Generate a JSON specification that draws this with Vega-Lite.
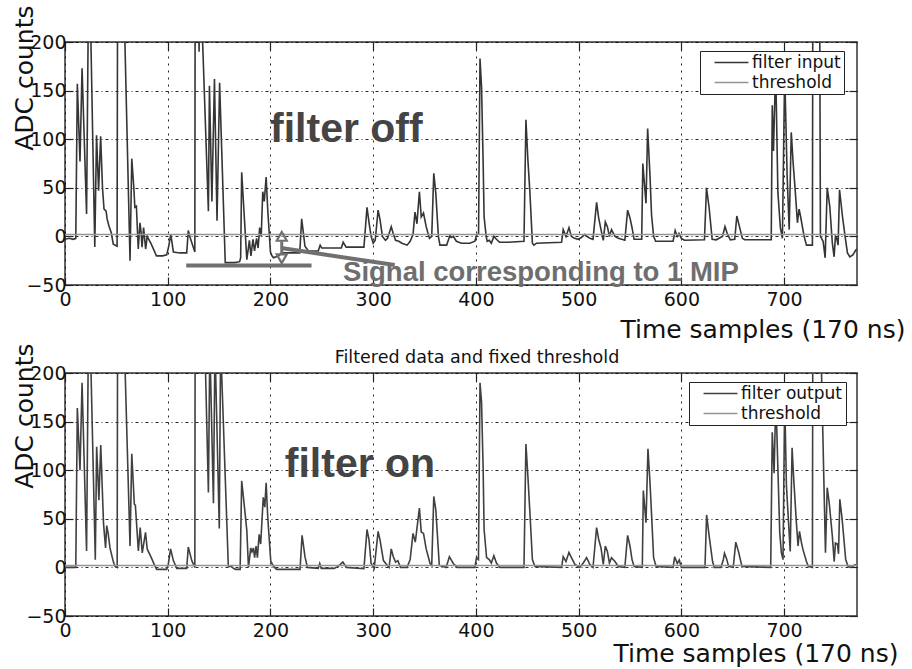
{
"$schema": "https://vega.github.io/schema/vega-lite/v6.json",
"background": "white",
"autosize": {"type": "pad"},
"padding": {"left": 11, "top": 4, "right": 4, "bottom": 4},
"config": {
 "view": {"stroke": "#333", "strokeWidth": 1.5},
 "font": "DejaVu Sans",
 "axis": {"domain": false, "tickColor": "#222", "tickWidth": 1.2, "tickSize": -8, "labelFont": "DejaVu Sans", "labelFontSize": 19, "labelColor": "#111", "titleFont": "DejaVu Sans", "titleFontSize": 25, "titleFontWeight": "normal", "titleColor": "#111", "gridColor": "#000", "gridOpacity": 0.85, "gridWidth": 1, "labelFlush": false, "labelOverlap": false},
 "axisX": {"gridDash": [2, 5], "labelPadding": 13},
 "axisY": {"gridDash": [3, 3, 1, 3], "labelPadding": 7},
 "legend": {"symbolType": "M-3,0H3", "symbolSize": 128, "symbolStrokeWidth": 1.4, "labelFontSize": 17, "labelFont": "DejaVu Sans", "labelColor": "#111", "strokeColor": "#222", "fillColor": "white", "padding": 3, "rowPadding": 2, "symbolOffset": 20, "labelOffset": 12, "labelLimit": 0}
},
"datasets": {
 "top": [
{"x":0,"y":-3},{"x":4,"y":-2},{"x":8,"y":-3},{"x":10.5,"y":-2},{"x":12,"y":157},{"x":14.6,"y":77},{"x":16.6,"y":173},{"x":21,"y":23},{"x":22.7,"y":230},{"x":24.7,"y":230},{"x":29,"y":-11},{"x":30.7,"y":104},{"x":32.7,"y":47},{"x":34.7,"y":103},{"x":36.5,"y":50},{"x":38,"y":28},{"x":40,"y":26},{"x":41,"y":18},{"x":43,"y":10},{"x":45,"y":4},{"x":47,"y":-8},{"x":50.7,"y":-10},{"x":51.2,"y":260},{"x":57,"y":260},{"x":63.3,"y":-25},{"x":65,"y":80},{"x":67,"y":50},{"x":68,"y":30},{"x":69.5,"y":31},{"x":71.3,"y":-13},{"x":73,"y":14},{"x":74,"y":5},{"x":75,"y":-11},{"x":76.5,"y":9},{"x":78.5,"y":-13},{"x":80,"y":0},{"x":84,"y":-8},{"x":89,"y":-20},{"x":95,"y":-20},{"x":99,"y":-19},{"x":101,"y":-10},{"x":103,"y":2},{"x":105.5,"y":-16},{"x":112,"y":-17},{"x":118.5,"y":-17},{"x":120,"y":6},{"x":122,"y":-2},{"x":126.4,"y":-16},{"x":126.7,"y":260},{"x":130,"y":260},{"x":130.5,"y":190},{"x":131,"y":230},{"x":133,"y":230},{"x":139.6,"y":26},{"x":140.6,"y":155},{"x":143,"y":36},{"x":145.5,"y":162},{"x":148,"y":16},{"x":150.5,"y":158},{"x":156,"y":-27},{"x":165,"y":-27},{"x":170,"y":-26},{"x":171,"y":-22},{"x":172,"y":66},{"x":177,"y":-24},{"x":179.5,"y":-4},{"x":181,"y":-20},{"x":183,"y":-3},{"x":184.5,"y":-15},{"x":186.5,"y":-2},{"x":188,"y":-12},{"x":189.5,"y":9},{"x":191,"y":0},{"x":192.5,"y":46},{"x":194,"y":36},{"x":195.8,"y":61},{"x":197.5,"y":25},{"x":200,"y":-16},{"x":201.5,"y":-20},{"x":203,"y":-22},{"x":208,"y":-20},{"x":211,"y":-17},{"x":228.5,"y":-17},{"x":230.4,"y":18},{"x":233.6,"y":-10},{"x":237,"y":-15},{"x":246.5,"y":-15},{"x":248.4,"y":-9},{"x":250,"y":-12},{"x":269,"y":-12},{"x":270.8,"y":-6},{"x":273.7,"y":-11},{"x":291,"y":-11},{"x":294,"y":30},{"x":296,"y":14},{"x":298,"y":0},{"x":300,"y":-7},{"x":302,"y":-4},{"x":304.8,"y":27},{"x":306.7,"y":17},{"x":309,"y":0},{"x":312,"y":-4},{"x":314,"y":-2},{"x":317.6,"y":10},{"x":319.5,"y":3},{"x":321.8,"y":-4},{"x":325,"y":-5},{"x":328,"y":-7},{"x":333,"y":-9},{"x":336,"y":-5},{"x":338.8,"y":2},{"x":340.7,"y":25},{"x":342.6,"y":13},{"x":345,"y":46},{"x":346.8,"y":20},{"x":349,"y":24},{"x":351.6,"y":10},{"x":354.8,"y":-2},{"x":357,"y":0},{"x":359,"y":65},{"x":361,"y":44},{"x":363.5,"y":0},{"x":365,"y":-9},{"x":371.5,"y":-9},{"x":374.7,"y":1},{"x":376,"y":-1},{"x":378,"y":0},{"x":381,"y":-5},{"x":386,"y":-7},{"x":394,"y":-7},{"x":399,"y":-5},{"x":400.6,"y":1},{"x":402.6,"y":3},{"x":404,"y":183},{"x":405.5,"y":154},{"x":407,"y":79},{"x":408,"y":20},{"x":410,"y":0},{"x":411,"y":-5},{"x":413,"y":-4},{"x":415,"y":-7},{"x":417.5,"y":0},{"x":420,"y":-3},{"x":423,"y":-6},{"x":431.5,"y":-6},{"x":446.8,"y":-5},{"x":448.7,"y":120},{"x":450.6,"y":79},{"x":452.6,"y":45},{"x":455,"y":-7},{"x":456.5,"y":-9},{"x":459,"y":-7},{"x":483.4,"y":-6},{"x":485,"y":7},{"x":487.7,"y":0},{"x":490.6,"y":9},{"x":493,"y":0},{"x":496,"y":-2},{"x":499.7,"y":-3},{"x":503,"y":-1},{"x":506,"y":2},{"x":508,"y":0},{"x":511,"y":-2},{"x":514,"y":-3},{"x":517.5,"y":35},{"x":519.5,"y":19},{"x":521.8,"y":7},{"x":524,"y":-4},{"x":526,"y":15},{"x":528,"y":10},{"x":530,"y":0},{"x":532,"y":7},{"x":535.4,"y":0},{"x":538.6,"y":-2},{"x":542,"y":-3},{"x":545,"y":-4},{"x":547.7,"y":27},{"x":550,"y":19},{"x":552,"y":9},{"x":554,"y":-3},{"x":561.4,"y":-3},{"x":562.5,"y":75},{"x":565.6,"y":34},{"x":567.2,"y":111},{"x":569.5,"y":62},{"x":571,"y":22},{"x":573,"y":0},{"x":575,"y":-5},{"x":592,"y":-5},{"x":594,"y":6},{"x":596,"y":0},{"x":597.7,"y":3},{"x":600,"y":-2},{"x":603,"y":-4},{"x":622.5,"y":-3.5},{"x":624.5,"y":50},{"x":627,"y":30},{"x":630,"y":-3},{"x":634,"y":-3.5},{"x":640,"y":0},{"x":642.5,"y":10},{"x":645,"y":2},{"x":647.7,"y":-3.5},{"x":652,"y":-3},{"x":654,"y":21},{"x":656.8,"y":9},{"x":659.4,"y":-2},{"x":661.7,"y":-3.5},{"x":687.5,"y":-3.5},{"x":688.5,"y":135},{"x":689.7,"y":88},{"x":691.8,"y":175},{"x":694,"y":45},{"x":696.4,"y":9},{"x":698.4,"y":-2},{"x":700.6,"y":170},{"x":703,"y":62},{"x":705,"y":7},{"x":707,"y":107},{"x":708.8,"y":76},{"x":711,"y":45},{"x":713,"y":14},{"x":714.6,"y":28},{"x":716,"y":21},{"x":718,"y":9},{"x":719.5,"y":0},{"x":721.8,"y":-9},{"x":727.6,"y":-9},{"x":728,"y":260},{"x":734.6,"y":260},{"x":735.4,"y":0},{"x":738,"y":-5},{"x":740,"y":-22},{"x":742,"y":50},{"x":744.5,"y":31},{"x":747,"y":-7},{"x":748.7,"y":-21},{"x":750,"y":0},{"x":751.2,"y":-2},{"x":752.6,"y":-9},{"x":754,"y":48},{"x":756.8,"y":21},{"x":759.4,"y":0},{"x":761.7,"y":-17},{"x":764,"y":-21},{"x":767,"y":-19},{"x":769.8,"y":-14},{"x":771,"y":-13}
 ],
 "bot": [
{"x":0,"y":0},{"x":10.5,"y":0},{"x":12,"y":164},{"x":14.6,"y":100},{"x":16.6,"y":190},{"x":21,"y":17},{"x":22.7,"y":230},{"x":24.7,"y":230},{"x":29.5,"y":8},{"x":30.8,"y":124},{"x":33,"y":69},{"x":34.8,"y":126},{"x":37.5,"y":45},{"x":39.5,"y":20},{"x":40.6,"y":43},{"x":42,"y":35},{"x":43.8,"y":20},{"x":47,"y":6},{"x":48.7,"y":1},{"x":50.8,"y":0},{"x":51.2,"y":260},{"x":57,"y":260},{"x":63.3,"y":22},{"x":65,"y":117},{"x":67.5,"y":65},{"x":68.5,"y":64},{"x":71.4,"y":17},{"x":73.2,"y":41},{"x":75.2,"y":15},{"x":78.4,"y":36},{"x":80,"y":19},{"x":84,"y":10},{"x":87.7,"y":1},{"x":89.3,"y":-2},{"x":99,"y":-2},{"x":100.5,"y":3},{"x":102.8,"y":19},{"x":105.5,"y":7},{"x":108.8,"y":-1},{"x":118.5,"y":-1},{"x":120,"y":21},{"x":123.4,"y":7},{"x":126.4,"y":0},{"x":126.7,"y":260},{"x":135.5,"y":260},{"x":139.6,"y":77},{"x":141,"y":230},{"x":144.5,"y":66},{"x":146,"y":230},{"x":150.2,"y":40},{"x":151.5,"y":230},{"x":159,"y":1},{"x":162,"y":1},{"x":164,"y":-1},{"x":166,"y":-2},{"x":170.5,"y":-2},{"x":172,"y":89},{"x":174.7,"y":62},{"x":177,"y":38},{"x":178.6,"y":0},{"x":180.8,"y":20},{"x":182,"y":16},{"x":183.4,"y":20},{"x":184.6,"y":10},{"x":186,"y":22},{"x":187.3,"y":10},{"x":189,"y":34},{"x":190.5,"y":24},{"x":193,"y":72},{"x":194.5,"y":62},{"x":195.8,"y":87},{"x":197.4,"y":51},{"x":200.3,"y":6.5},{"x":203,"y":1},{"x":206,"y":-2},{"x":228.8,"y":-2},{"x":230.8,"y":33},{"x":233.6,"y":11},{"x":236,"y":0},{"x":246.5,"y":-1},{"x":248,"y":4},{"x":249.5,"y":-1},{"x":262,"y":-1},{"x":266,"y":1},{"x":270.5,"y":5.5},{"x":274,"y":0},{"x":291,"y":-1.4},{"x":294,"y":39},{"x":296,"y":28},{"x":298,"y":4},{"x":301,"y":-1},{"x":304.8,"y":37},{"x":306.7,"y":28},{"x":310,"y":7},{"x":313.8,"y":2},{"x":315.5,"y":0},{"x":317.6,"y":19},{"x":319.6,"y":11},{"x":321.8,"y":5.5},{"x":324,"y":7},{"x":326.6,"y":0},{"x":333,"y":0},{"x":336,"y":8},{"x":338.8,"y":35},{"x":341,"y":26},{"x":345,"y":61},{"x":346.8,"y":36.5},{"x":349,"y":35},{"x":351.6,"y":19},{"x":355.4,"y":4},{"x":357,"y":2},{"x":359,"y":73},{"x":361,"y":59},{"x":364.4,"y":2},{"x":371,"y":0},{"x":374.2,"y":11},{"x":378,"y":4},{"x":381.7,"y":0},{"x":399,"y":0},{"x":400.6,"y":10},{"x":402.5,"y":8},{"x":404,"y":190},{"x":405.5,"y":170},{"x":407,"y":104},{"x":408,"y":39},{"x":410.4,"y":10},{"x":413,"y":8},{"x":415,"y":4.5},{"x":417.5,"y":12},{"x":420,"y":4.5},{"x":423.4,"y":0},{"x":446.8,"y":0},{"x":448.7,"y":127},{"x":450.6,"y":94},{"x":452.6,"y":56},{"x":455,"y":8},{"x":457.5,"y":1},{"x":483.4,"y":0},{"x":485,"y":11},{"x":487.7,"y":6},{"x":490.6,"y":15.5},{"x":493,"y":10},{"x":496.4,"y":3},{"x":501,"y":0},{"x":504.5,"y":4.5},{"x":507.8,"y":10},{"x":511,"y":3},{"x":514,"y":0},{"x":517.5,"y":41},{"x":519.5,"y":29},{"x":521.8,"y":20},{"x":524,"y":3},{"x":526,"y":22},{"x":528,"y":16.5},{"x":530,"y":4.5},{"x":532,"y":10},{"x":535.4,"y":6},{"x":538.6,"y":1},{"x":545,"y":0},{"x":547.7,"y":33},{"x":550,"y":22},{"x":552,"y":8},{"x":554,"y":1},{"x":562,"y":0},{"x":563,"y":79},{"x":565.6,"y":46},{"x":567.5,"y":122},{"x":569.5,"y":87},{"x":571.4,"y":46},{"x":573,"y":10},{"x":575.4,"y":1},{"x":592,"y":0},{"x":593.5,"y":11},{"x":596,"y":4},{"x":598,"y":7.6},{"x":600,"y":0},{"x":623,"y":0},{"x":624.6,"y":54},{"x":627,"y":33},{"x":630.4,"y":6},{"x":632,"y":0},{"x":638.5,"y":0},{"x":640.8,"y":7.6},{"x":642,"y":14.5},{"x":644,"y":9},{"x":646,"y":1},{"x":650.5,"y":0},{"x":653,"y":26},{"x":655.7,"y":16},{"x":659,"y":1},{"x":687,"y":0},{"x":688.5,"y":139},{"x":690.3,"y":97},{"x":692,"y":175},{"x":695.8,"y":35.5},{"x":697.4,"y":15},{"x":699,"y":8},{"x":700.6,"y":175},{"x":702.3,"y":84},{"x":706,"y":16.5},{"x":707.8,"y":123},{"x":709.4,"y":91},{"x":712,"y":46},{"x":713.6,"y":22},{"x":715,"y":37},{"x":717,"y":25},{"x":718.5,"y":18},{"x":721.8,"y":6},{"x":723.7,"y":1},{"x":727.6,"y":0},{"x":728,"y":260},{"x":735.2,"y":260},{"x":740.3,"y":15},{"x":742,"y":82},{"x":744,"y":66},{"x":747,"y":32},{"x":748.8,"y":6},{"x":750,"y":25},{"x":752,"y":24},{"x":753,"y":14},{"x":754.3,"y":70},{"x":756.5,"y":50},{"x":760,"y":8},{"x":762.3,"y":1},{"x":765.6,"y":0},{"x":768,"y":2},{"x":770,"y":3}
 ]
},
"spacing": 88,
"bounds": "flush",
"resolve": {"scale": {"color": "independent", "x": "independent", "y": "independent"}},
"vconcat": [
 {
  "width": 792, "height": 243,
  "layer": [
   {
    "data": {"name": "top"},
    "mark": {"type": "line", "clip": true, "strokeWidth": 1.6},
    "encoding": {
     "x": {"field": "x", "type": "quantitative", "scale": {"domain": [0, 771], "nice": false, "zero": false},
      "axis": {"orient": "bottom", "values": [0,100,200,300,400,500,600,700], "grid": true, "title": "Time samples (170 ns)", "titleX": 840, "titleY": 52, "titleAlign": "right", "titleBaseline": "alphabetic"}},
     "y": {"field": "y", "type": "quantitative", "scale": {"domain": [-50, 200], "nice": false, "zero": false},
      "axis": {"orient": "left", "values": [-50,0,50,100,150,200], "grid": true, "title": "ADC counts", "titleX": -33, "titleY": -37, "titleAngle": 270, "titleAlign": "right", "titleBaseline": "alphabetic"}},
     "color": {"datum": "filter input", "type": "nominal", "scale": {"domain": ["filter input", "threshold"], "range": ["#353535", "#959595"]},
      "legend": {"orient": "none", "legendX": 635, "legendY": 9, "title": null}}
    }
   },
   {
    "data": {"values": [{"x": 0, "x2": 771, "y": 2}]},
    "mark": {"type": "rule", "strokeWidth": 1.5},
    "encoding": {
     "x": {"field": "x", "type": "quantitative", "axis": {"orient": "top", "labels": false, "title": null, "grid": false, "values": [0,100,200,300,400,500,600,700]}},
     "x2": {"field": "x2"},
     "y": {"field": "y", "type": "quantitative", "axis": {"orient": "right", "labels": false, "title": null, "grid": false, "values": [-50,0,50,100,150,200]}},
     "color": {"datum": "threshold", "type": "nominal"}
    }
   },
   {
    "data": {"values": [{"x": 118, "x2": 240, "y": -30}]},
    "mark": {"type": "rule", "strokeWidth": 4, "color": "#707070"},
    "encoding": {"x": {"field": "x", "type": "quantitative", "axis": null}, "x2": {"field": "x2"}, "y": {"field": "y", "type": "quantitative", "axis": null}}
   },
   {
    "data": {"values": [{"x": 210.5, "y": -12, "x2": 321, "y2": -29.5}]},
    "mark": {"type": "rule", "strokeWidth": 4, "color": "#707070"},
    "encoding": {"x": {"field": "x", "type": "quantitative", "axis": null}, "x2": {"field": "x2"}, "y": {"field": "y", "type": "quantitative", "axis": null}, "y2": {"field": "y2"}}
   },
   {
    "data": {"values": [{"x": 211, "y": -5, "y2": -18}]},
    "mark": {"type": "rule", "strokeWidth": 3, "color": "#707070"},
    "encoding": {"x": {"field": "x", "type": "quantitative", "axis": null}, "y": {"field": "y", "type": "quantitative", "axis": null}, "y2": {"field": "y2"}}
   },
   {
    "data": {"values": [{"x": 211, "y": 0, "head": "triangle-up"}, {"x": 211, "y": -23, "head": "triangle-down"}]},
    "mark": {"type": "point", "filled": false, "size": 100, "strokeWidth": 2.2, "color": "#707070", "opacity": 1},
    "encoding": {"x": {"field": "x", "type": "quantitative", "axis": null}, "y": {"field": "y", "type": "quantitative", "axis": null}, "shape": {"field": "head", "type": "nominal", "scale": null, "legend": null}}
   },
   {
    "data": {"values": [{"x": 199.6, "y": 97, "t": "filter off"}]},
    "mark": {"type": "text", "font": "Liberation Sans", "fontWeight": "bold", "fontSize": 41, "color": "#444", "align": "left", "baseline": "alphabetic"},
    "encoding": {"x": {"field": "x", "type": "quantitative", "axis": null}, "y": {"field": "y", "type": "quantitative", "axis": null}, "text": {"field": "t"}}
   },
   {
    "data": {"values": [{"x": 270.7, "y": -46, "t": "Signal corresponding to 1 MIP"}]},
    "mark": {"type": "text", "font": "Liberation Sans", "fontWeight": "bold", "fontSize": 27.5, "color": "#6e6e6e", "align": "left", "baseline": "alphabetic"},
    "encoding": {"x": {"field": "x", "type": "quantitative", "axis": null}, "y": {"field": "y", "type": "quantitative", "axis": null}, "text": {"field": "t"}}
   }
  ],
  "resolve": {"axis": {"x": "independent", "y": "independent"}}
 },
 {
  "width": 792, "height": 243,
  "title": {"text": "Filtered data and fixed threshold", "fontSize": 17.5, "font": "DejaVu Sans", "fontWeight": "normal", "color": "#111", "anchor": "middle", "frame": "group", "dx": 16, "dy": 45, "offset": 8, "baseline": "alphabetic"},
  "layer": [
   {
    "data": {"name": "bot"},
    "mark": {"type": "line", "clip": true, "strokeWidth": 1.6},
    "encoding": {
     "x": {"field": "x", "type": "quantitative", "scale": {"domain": [0, 771], "nice": false, "zero": false},
      "axis": {"orient": "bottom", "values": [0,100,200,300,400,500,600,700], "grid": true, "title": "Time samples (170 ns)", "titleX": 833, "titleY": 45, "titleAlign": "right", "titleBaseline": "alphabetic"}},
     "y": {"field": "y", "type": "quantitative", "scale": {"domain": [-50, 200], "nice": false, "zero": false},
      "axis": {"orient": "left", "values": [-50,0,50,100,150,200], "grid": true, "title": "ADC counts", "titleX": -33, "titleY": -30, "titleAngle": 270, "titleAlign": "right", "titleBaseline": "alphabetic"}},
     "color": {"datum": "filter output", "type": "nominal", "scale": {"domain": ["filter output", "threshold"], "range": ["#404040", "#959595"]},
      "legend": {"orient": "none", "legendX": 624, "legendY": 9, "title": null}}
    }
   },
   {
    "data": {"values": [{"x": 0, "x2": 771, "y": 2}]},
    "mark": {"type": "rule", "strokeWidth": 1.5},
    "encoding": {
     "x": {"field": "x", "type": "quantitative", "axis": {"orient": "top", "labels": false, "title": null, "grid": false, "values": [0,100,200,300,400,500,600,700]}},
     "x2": {"field": "x2"},
     "y": {"field": "y", "type": "quantitative", "axis": {"orient": "right", "labels": false, "title": null, "grid": false, "values": [-50,0,50,100,150,200]}},
     "color": {"datum": "threshold", "type": "nominal"}
    }
   },
   {
    "data": {"values": [{"x": 214, "y": 93, "t": "filter on"}]},
    "mark": {"type": "text", "font": "Liberation Sans", "fontWeight": "bold", "fontSize": 41, "color": "#444", "align": "left", "baseline": "alphabetic"},
    "encoding": {"x": {"field": "x", "type": "quantitative", "axis": null}, "y": {"field": "y", "type": "quantitative", "axis": null}, "text": {"field": "t"}}
   }
  ],
  "resolve": {"axis": {"x": "independent", "y": "independent"}}
 }
]
}
